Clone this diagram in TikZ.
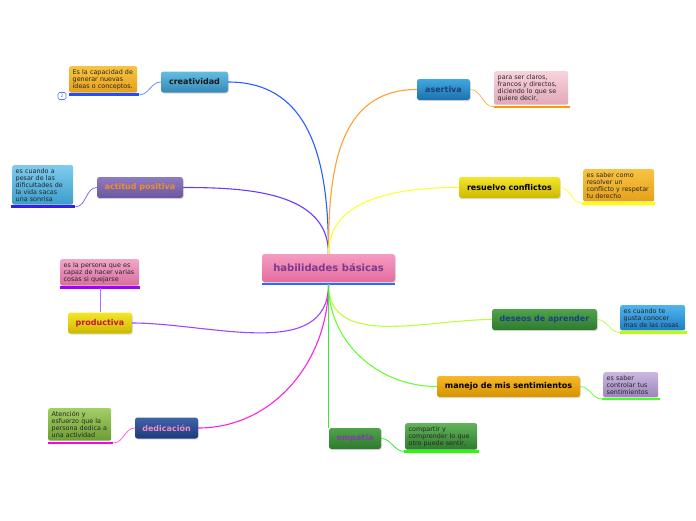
\documentclass[tikz,border=0pt]{standalone}
\usepackage{fontspec}
\setmainfont{DejaVu Sans}
\usetikzlibrary{shadows}
\definecolor{cT}{HTML}{F59CC2}\definecolor{cB}{HTML}{E56C9F}\definecolor{cTx}{HTML}{7A3A90}
\definecolor{creT}{HTML}{62BDE2}\definecolor{creB}{HTML}{3689B5}
\definecolor{aseT}{HTML}{3FA8E0}\definecolor{aseB}{HTML}{1D70AE}\definecolor{aseTx}{HTML}{1E3F7A}
\definecolor{actT}{HTML}{8E7BC0}\definecolor{actB}{HTML}{6B56A0}\definecolor{actTx}{HTML}{F28C28}
\definecolor{yelT}{HTML}{F4E62A}\definecolor{yelB}{HTML}{CDB800}\definecolor{prodTx}{HTML}{CC1030}
\definecolor{grnT}{HTML}{4FA44A}\definecolor{grnB}{HTML}{2E7A2D}\definecolor{desTx}{HTML}{1F3C8A}\definecolor{empTx}{HTML}{7E3FA8}
\definecolor{manT}{HTML}{F7B828}\definecolor{manB}{HTML}{D69200}
\definecolor{dedT}{HTML}{3F63AA}\definecolor{dedB}{HTML}{1D3A78}\definecolor{dedTx}{HTML}{F08AC8}
\definecolor{orT}{HTML}{F8C342}\definecolor{orB}{HTML}{E6A01A}
\definecolor{lbT}{HTML}{80CCEE}\definecolor{lbB}{HTML}{3B9DCB}
\definecolor{pkT}{HTML}{F3A6C8}\definecolor{pkB}{HTML}{D66F9D}
\definecolor{lgT}{HTML}{A2CF66}\definecolor{lgB}{HTML}{6C9C33}
\definecolor{ppT}{HTML}{F7D3DC}\definecolor{ppB}{HTML}{E1A8B8}
\definecolor{bbT}{HTML}{52B4EE}\definecolor{bbB}{HTML}{1E7DC4}
\definecolor{lvT}{HTML}{CAB8E0}\definecolor{lvB}{HTML}{9C84BC}
\definecolor{ggT}{HTML}{62B35A}\definecolor{ggB}{HTML}{2F7A2E}
\definecolor{kCre}{HTML}{2A5CFF}\definecolor{kAct}{HTML}{6A3AFF}\definecolor{kProd}{HTML}{A044FF}
\definecolor{kDed}{HTML}{FF22DD}\definecolor{kAse}{HTML}{FFA030}\definecolor{kRes}{HTML}{FFFF30}
\definecolor{kDes}{HTML}{BBFF40}\definecolor{kMan}{HTML}{66FF33}\definecolor{kEmp}{HTML}{33EE33}
\definecolor{uCre}{HTML}{1E50FF}\definecolor{uAct}{HTML}{3A1EE8}\definecolor{uProd}{HTML}{A000FF}
\definecolor{uDed}{HTML}{FF00E0}\definecolor{uAse}{HTML}{FF9900}\definecolor{uRes}{HTML}{FFFF00}
\definecolor{uDes}{HTML}{B8FF00}\definecolor{uMan}{HTML}{44FF22}\definecolor{uEmp}{HTML}{22FF00}
\definecolor{cUl}{HTML}{2A6CFF}\definecolor{badge}{HTML}{5577FF}
\begin{document}
\begin{tikzpicture}[x=1pt,y=-1pt,
 topic/.style={rounded corners=2.5pt, minimum height=21pt, inner sep=0pt,
   font=\bfseries\fontsize{8}{9}\selectfont,
   drop shadow={shadow xshift=0.8pt,shadow yshift=-1.2pt,opacity=0.25}},
 note/.style={rounded corners=2pt, anchor=north west, inner xsep=3.5pt, inner ysep=3pt,
   align=left, font=\fontsize{6.4}{7.1}\selectfont, text=black!85},
 uline/.style={line width=2.7pt},
 conn/.style={line width=1.1pt},
 nconn/.style={line width=0.8pt},
]
\useasboundingbox (0,0) rectangle (696,520);

% center
\node[topic, minimum width=133pt, minimum height=28pt, top color=cT, bottom color=cB,
  text=cTx, font=\bfseries\fontsize{10}{11}\selectfont] (c) at (328.5,268) {habilidades básicas};
\coordinate (ct) at (c.north);
\coordinate (cb) at ([yshift=-2pt]c.south);

% topics
\node[topic, minimum width=67pt, top color=creT, bottom color=creB, text=black!90] (cre) at (194.5,82) {creatividad};
\node[topic, minimum width=86pt, top color=actT, bottom color=actB, text=actTx] (act) at (140,187.5) {actitud positiva};
\node[topic, minimum width=64pt, top color=yelT, bottom color=yelB, text=prodTx] (prod) at (100,323) {productiva};
\node[topic, minimum width=63pt, top color=dedT, bottom color=dedB, text=dedTx] (ded) at (166.5,428) {dedicación};
\node[topic, minimum width=53pt, top color=aseT, bottom color=aseB, text=aseTx] (ase) at (443.5,89.5) {asertiva};
\node[topic, minimum width=101pt, top color=yelT, bottom color=yelB, text=black] (res) at (509.5,187.5) {resuelvo conflictos};
\node[topic, minimum width=105pt, top color=grnT, bottom color=grnB, text=desTx] (des) at (544.5,319.5) {deseos de aprender};
\node[topic, minimum width=143pt, top color=manT, bottom color=manB, text=black] (man) at (508.5,386.5) {manejo de mis sentimientos};
\node[topic, minimum width=52pt, top color=grnT, bottom color=grnB, text=empTx] (emp) at (355,438.5) {empatia};

% notes
\node[note, text width=61pt, top color=orT, bottom color=orB] (n1) at (69,66) {Es la capacidad de\\generar nuevas\\ideas o conceptos.};
\node[note, text width=54pt, top color=lbT, bottom color=lbB] (n2) at (12,165) {es cuando a\\pesar de las\\dificultades de\\la vida sacas\\una sonrisa};
\node[note, text width=72pt, top color=pkT, bottom color=pkB] (n3) at (60,259) {es la persona que es\\capaz de hacer varias\\cosas si quejarse};
\node[note, text width=56pt, top color=lgT, bottom color=lgB] (n4) at (48,408) {Atención y\\esfuerzo que la\\persona dedica a\\una actividad};
\node[note, text width=67pt, top color=ppT, bottom color=ppB] (n5) at (494,71) {para ser claros,\\francos y directos,\\diciendo lo que se\\quiere decir,};
\node[note, text width=64pt, top color=orT, bottom color=orB] (n6) at (583,169) {es saber como\\resolver un\\conflicto y respetar\\tu derecho};
\node[note, text width=58pt, top color=bbT, bottom color=bbB] (n7) at (620,305) {es cuando te\\gusta conocer\\mas de las cosas};
\node[note, text width=48pt, top color=lvT, bottom color=lvB] (n8) at (603,372) {es saber\\controlar tus\\sentimientos};
\node[note, text width=65pt, top color=ggT, bottom color=ggB] (n9) at (405,423) {compartir y\\comprender lo que\\otro puede sentir,};

% underlines
\draw[line width=1.5pt, cUl] ([yshift=-2pt]c.south west) -- ([yshift=-2pt]c.south east);
\draw[uline, uCre] ([yshift=-2pt]n1.south west) coordinate (u1s) -- ([xshift=2pt,yshift=-2pt]n1.south east) coordinate (u1e);
\draw[uline, uAct] ([xshift=-1pt,yshift=-2pt]n2.south west) coordinate (u2s) -- ([xshift=2pt,yshift=-2pt]n2.south east) coordinate (u2e);
\draw[uline, uProd] ([yshift=-2pt]n3.south west) coordinate (u3s) -- ([xshift=1pt,yshift=-2pt]n3.south east) coordinate (u3e);
\draw[uline, uDed] ([yshift=-2pt]n4.south west) coordinate (u4s) -- ([xshift=2pt,yshift=-2pt]n4.south east) coordinate (u4e);
\draw[uline, uAse] ([yshift=-2pt]n5.south west) coordinate (u5s) -- ([xshift=2pt,yshift=-2pt]n5.south east) coordinate (u5e);
\draw[uline, uRes] ([xshift=-1pt,yshift=-1.5pt]n6.south west) coordinate (u6s) -- ([xshift=1pt,yshift=-1.5pt]n6.south east) coordinate (u6e);
\draw[uline, uDes] ([yshift=-2pt]n7.south west) coordinate (u7s) -- ([xshift=2pt,yshift=-2pt]n7.south east) coordinate (u7e);
\draw[uline, uMan] ([xshift=-1pt,yshift=-1.5pt]n8.south west) coordinate (u8s) -- ([xshift=2pt,yshift=-1.5pt]n8.south east) coordinate (u8e);
\draw[uline, uEmp] ([xshift=-1pt,yshift=-1.5pt]n9.south west) coordinate (u9s) -- ([xshift=2pt,yshift=-1.5pt]n9.south east) coordinate (u9e);

% badge
\node[draw=badge, rounded corners=1.5pt, fill=white, minimum width=8pt, minimum height=7pt,
  inner sep=0pt, font=\fontsize{4.5}{5}\selectfont, text=badge, line width=0.6pt] (bd) at (62,96) {2};

% main connectors
\draw[conn, kCre] (ct) to[out=90,in=0,looseness=1.1] (cre.east);
\draw[conn, kAct] (ct) to[out=90,in=0] (act.east);
\draw[conn, kProd] (cb) to[out=-90,in=0] (prod.east);
\draw[conn, kDed] (cb) to[out=-90,in=0] (ded.east);
\draw[conn, kAse] (ct) to[out=90,in=180,looseness=1.1] (ase.west);
\draw[conn, kRes] (ct) to[out=90,in=180] (res.west);
\draw[conn, kDes] (cb) to[out=-90,in=180] (des.west);
\draw[conn, kMan] (cb) to[out=-90,in=180] (man.west);
\draw[conn, kEmp] (cb) -- (cb |- emp.north);

% note connectors
\draw[nconn, kCre!70] (cre.west) to[out=180,in=0] (u1e);
\draw[nconn, kAct!80] (act.west) to[out=180,in=0] (u2e);
\draw[nconn, kProd!80] (prod.north) -- (prod.north |- u3s);
\draw[nconn, kDed!70] (ded.west) to[out=180,in=0] (u4e);
\draw[nconn, kAse!80] (ase.east) to[out=0,in=180] (u5s);
\draw[nconn, kRes] (res.east) to[out=0,in=180] (u6s);
\draw[nconn, kDes] (des.east) to[out=0,in=180] (u7s);
\draw[nconn, kMan] (man.east) to[out=0,in=180] (u8s);
\draw[nconn, kEmp] (emp.east) to[out=0,in=180] (u9s);
\end{tikzpicture}
\end{document}
